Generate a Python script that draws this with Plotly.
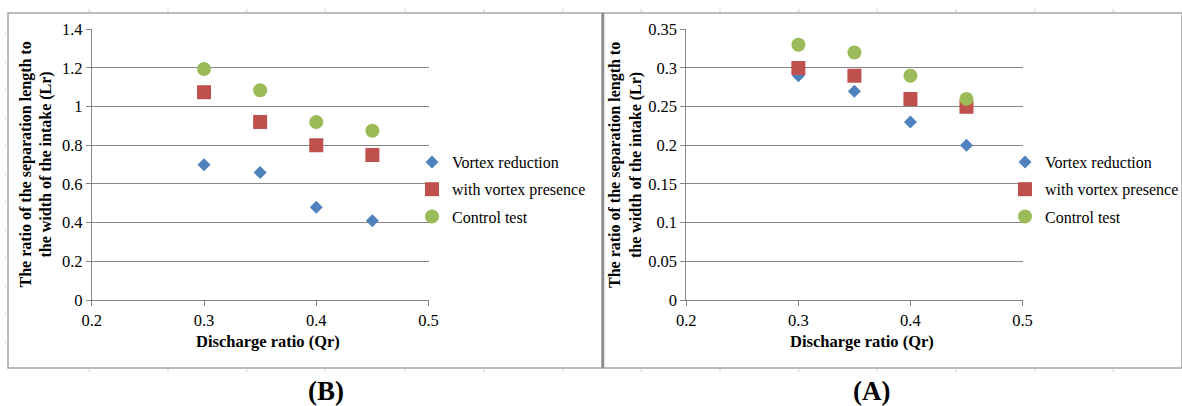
import plotly.graph_objects as go

# ---- data ----
discharge_ratio = [0.30, 0.35, 0.40, 0.45]

# Panel (B)
b_vortex_reduction = [0.70, 0.66, 0.48, 0.41]
b_with_vortex = [1.075, 0.92, 0.80, 0.75]
b_control = [1.195, 1.085, 0.92, 0.875]

# Panel (A)
a_vortex_reduction = [0.29, 0.27, 0.23, 0.20]
a_with_vortex = [0.30, 0.29, 0.26, 0.25]
a_control = [0.33, 0.32, 0.29, 0.26]

series_names = ["Vortex reduction", "with vortex presence", "Control test"]
x_ticks = [0.2, 0.3, 0.4, 0.5]
b_y_ticks = [0, 0.2, 0.4, 0.6, 0.8, 1, 1.2, 1.4]
a_y_ticks = [0, 0.05, 0.1, 0.15, 0.2, 0.25, 0.3, 0.35]
panel_labels = ["(B)", "(A)"]
y_title = "The ratio of the separation length to<br>the width of the intake (Lr)"
x_title = "Discharge ratio (Qr)"

# ---- style ----
W, H = 1182, 406
colors = ["#4F81BD", "#C0504D", "#9BBB59"]
symbols = ["diamond", "square", "circle"]
sizes = [10, 14, 14]
FONT = "Liberation Serif"
GRID = "#878787"

def px(x):
    return x / W

def py(y):
    return (H - y) / H

fig = go.Figure()

panels = [
    dict(xa="x", ya="y", data=[b_vortex_reduction, b_with_vortex, b_control], legend="legend"),
    dict(xa="x2", ya="y2", data=[a_vortex_reduction, a_with_vortex, a_control], legend="legend2"),
]
for p in panels:
    for i, (name, vals) in enumerate(zip(series_names, p["data"])):
        fig.add_trace(go.Scatter(
            x=discharge_ratio, y=vals, mode="markers", name=name,
            xaxis=p["xa"], yaxis=p["ya"], legend=p["legend"], legendgroup=p["legend"] + str(i),
            marker=dict(color=colors[i], symbol=symbols[i], size=sizes[i], line=dict(width=0)),
        ))

ydom = [py(300), py(29.3)]
axis_common = dict(showline=True, linecolor=GRID, linewidth=1, ticks="outside", ticklen=5,
                   tickcolor=GRID, tickfont=dict(family=FONT, size=16.5, color="#000"),
                   zeroline=False, automargin=False)
LEGFONT = dict(family=FONT, size=16, color="#000")
fig.update_layout(
    width=W, height=H, margin=dict(l=0, r=0, t=0, b=0, autoexpand=False),
    paper_bgcolor="white", plot_bgcolor="white",
    font=dict(family=FONT, color="#000"),
    xaxis=dict(domain=[px(91.8), px(428.5)], range=[0.2, 0.5], tickvals=x_ticks,
               ticktext=[str(v) for v in x_ticks], showgrid=False, anchor="y", **axis_common),
    yaxis=dict(domain=ydom, range=[0, 1.4], tickvals=b_y_ticks,
               ticktext=[str(v) for v in b_y_ticks], showgrid=True, gridcolor=GRID, gridwidth=1,
               anchor="x", **axis_common),
    xaxis2=dict(domain=[px(686.3), px(1022.5)], range=[0.2, 0.5], tickvals=x_ticks,
                ticktext=[str(v) for v in x_ticks], showgrid=False, anchor="y2", **axis_common),
    yaxis2=dict(domain=ydom, range=[0, 0.35], tickvals=a_y_ticks,
                ticktext=[str(v) for v in a_y_ticks], showgrid=True, gridcolor=GRID, gridwidth=1,
                anchor="x2", **axis_common),
    legend=dict(x=px(412), y=py(145), xanchor="left", yanchor="top",
                font=LEGFONT, itemwidth=30, tracegroupgap=3.5, bgcolor="rgba(0,0,0,0)"),
    legend2=dict(x=px(1005), y=py(145), xanchor="left", yanchor="top",
                 font=LEGFONT, itemwidth=30, tracegroupgap=3.5, bgcolor="rgba(0,0,0,0)"),
    showlegend=True,
)

annotations = []
for cx, lx in [(35.5, 268), (625, 862)]:
    annotations.append(dict(text="<b>" + y_title + "</b>", x=px(cx), y=py(165), xref="paper", yref="paper",
                            textangle=-90, showarrow=False, xanchor="center", yanchor="middle",
                            font=dict(family=FONT, size=16, color="#000")))
    annotations.append(dict(text="<b>" + x_title + "</b>", x=px(lx), y=py(341), xref="paper", yref="paper",
                            showarrow=False, xanchor="center", yanchor="middle",
                            font=dict(family=FONT, size=16.5, color="#000")))
for lbl, cx in zip(panel_labels, [326, 871]):
    annotations.append(dict(text="<b>" + lbl + "</b>", x=px(cx), y=py(391), xref="paper", yref="paper",
                            showarrow=False, xanchor="center", yanchor="middle",
                            font=dict(family=FONT, size=27, color="#000")))
fig.update_layout(annotations=annotations)

shapes = []
# panel frames
shapes.append(dict(type="rect", xref="paper", yref="paper", x0=px(8), x1=px(602), y0=py(368), y1=py(13),
                   line=dict(color="#A6A6A6", width=1.5)))
shapes.append(dict(type="rect", xref="paper", yref="paper", x0=px(603), x1=px(1182), y0=py(368), y1=py(13),
                   line=dict(color="#A6A6A6", width=1.5)))
shapes.append(dict(type="line", xref="paper", yref="paper", x0=px(603), x1=px(603), y0=py(368), y1=py(13),
                   line=dict(color="#8C8C8C", width=2.5)))
# faint ruler ticks
for rx in [89, 168, 247, 325, 405, 484, 563, 641, 720, 799, 877, 956, 1035, 1113]:
    shapes.append(dict(type="line", xref="paper", yref="paper", x0=px(rx), x1=px(rx), y0=py(9), y1=py(12),
                       line=dict(color="#D0D0D0", width=1)))
    shapes.append(dict(type="line", xref="paper", yref="paper", x0=px(rx), x1=px(rx), y0=py(369), y1=py(372),
                       line=dict(color="#D0D0D0", width=1)))
for ry in [34, 62, 90, 118, 146, 174, 202, 230, 258, 286, 314, 342]:
    shapes.append(dict(type="line", xref="paper", yref="paper", x0=px(5), x1=px(8), y0=py(ry), y1=py(ry),
                       line=dict(color="#D0D0D0", width=1)))
fig.update_layout(shapes=shapes)

fig.write_html(
    "out.html",
    config={"displayModeBar": False},
    post_script="document.body.style.margin='0';document.body.style.overflow='hidden';",
)
